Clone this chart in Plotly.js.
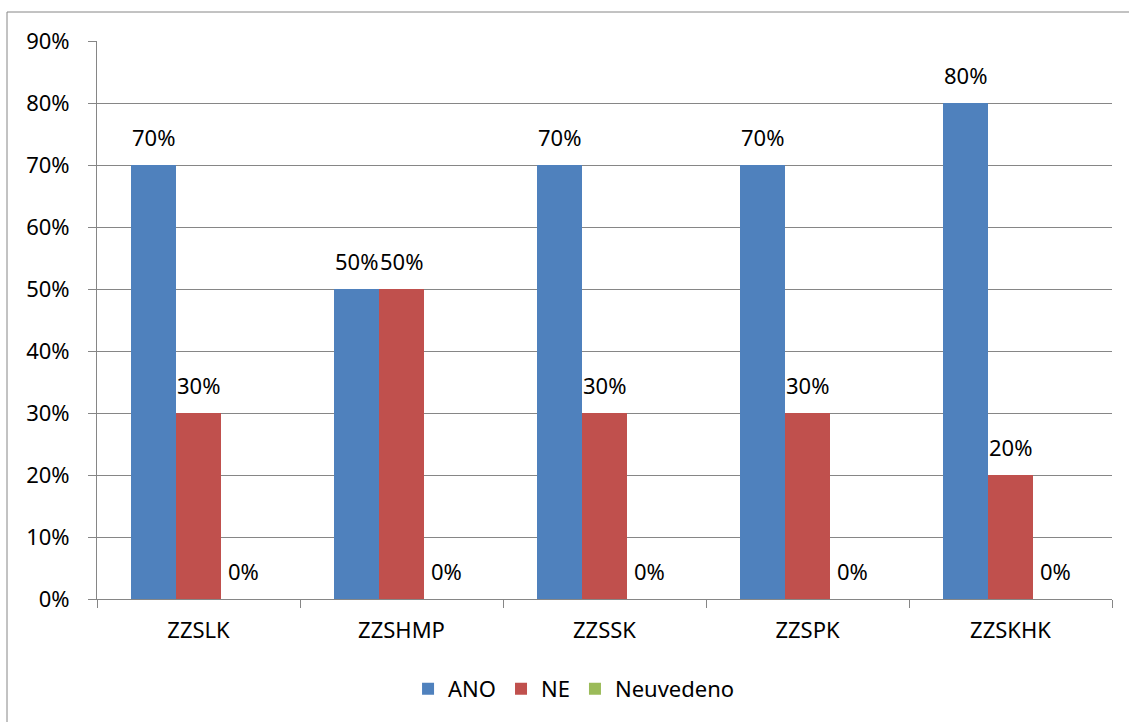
<!DOCTYPE html>
<html>
<head>
<meta charset="utf-8">
<script src="https://cdn.plot.ly/plotly-3.0.1.min.js"></script>
<style>
  html, body { margin: 0; padding: 0; background: #fff; }
  #chart { width: 1129px; height: 722px; }
</style>
</head>
<body>
<div id="chart"></div>
<script>
const categories = ['ZZSLK', 'ZZSHMP', 'ZZSSK', 'ZZSPK', 'ZZSKHK'];
const seriesNames = ['ANO', 'NE', 'Neuvedeno'];
const anoValues = [70, 50, 70, 70, 80];
const neValues = [30, 50, 30, 30, 20];
const neuvedenoValues = [0, 0, 0, 0, 0];
const yTickValues = [0, 10, 20, 30, 40, 50, 60, 70, 80, 90];

const colors = ['#4F81BD', '#C0504D', '#9BBB59'];
const seriesValues = [anoValues, neValues, neuvedenoValues];
const FONT = '"Noto Sans", sans-serif';
const FS = 22;

const traces = seriesValues.map((vals, i) => ({
  type: 'bar',
  name: seriesNames[i],
  x: categories,
  y: vals,
  marker: { color: colors[i], line: { width: 0 } },
  hoverinfo: 'skip'
}));

const annotations = [];
seriesValues.forEach((vals, i) => {
  vals.forEach((v, j) => {
    annotations.push({
      x: categories[j], y: v, xref: 'x', yref: 'y',
      text: v + '%', showarrow: false,
      xanchor: 'center', yanchor: 'middle',
      xshift: (i - 1) * 45, yshift: 28,
      font: { family: FONT, size: FS, color: '#000' }
    });
  });
});

const layout = {
  width: 1129, height: 722,
  margin: { l: 97, r: 17, t: 41, b: 123 },
  paper_bgcolor: '#fff', plot_bgcolor: '#fff',
  font: { family: FONT, size: FS, color: '#000' },
  barmode: 'group', bargap: 0.335, bargroupgap: 0,
  showlegend: true,
  legend: {
    orientation: 'h', x: 0.47, xanchor: 'center', y: -0.161, yanchor: 'middle',
    font: { family: FONT, size: FS, color: '#000' },
    itemclick: false, itemdoubleclick: false
  },
  xaxis: {
    type: 'category', categoryorder: 'array', categoryarray: categories,
    showgrid: false, showline: true, linecolor: '#868686', linewidth: 1,
    ticks: 'outside', tickson: 'boundaries', ticklen: 8, tickcolor: '#868686',
    ticklabelstandoff: 12, zeroline: false,
    tickfont: { family: FONT, size: FS, color: '#000' }
  },
  yaxis: {
    range: [0, 90], tickvals: yTickValues, ticktext: yTickValues.map(v => v + '%'),
    showgrid: true, gridcolor: '#868686', gridwidth: 1,
    showline: true, linecolor: '#868686', linewidth: 1,
    ticks: 'outside', ticklen: 8, tickcolor: '#868686',
    ticklabelstandoff: 14, zeroline: false,
    tickfont: { family: FONT, size: FS, color: '#000' }
  },
  annotations: annotations,
  shapes: [{
    type: 'rect', xref: 'paper', yref: 'paper',
    x0: (7 - 97) / 1015, x1: 1.2, y0: -0.5, y1: (599 - 12) / 558,
    line: { color: '#868686', width: 1 }, fillcolor: 'rgba(0,0,0,0)', layer: 'below'
  }]
};

Plotly.newPlot('chart', traces, layout, { displayModeBar: false, staticPlot: true });
</script>
</body>
</html>
